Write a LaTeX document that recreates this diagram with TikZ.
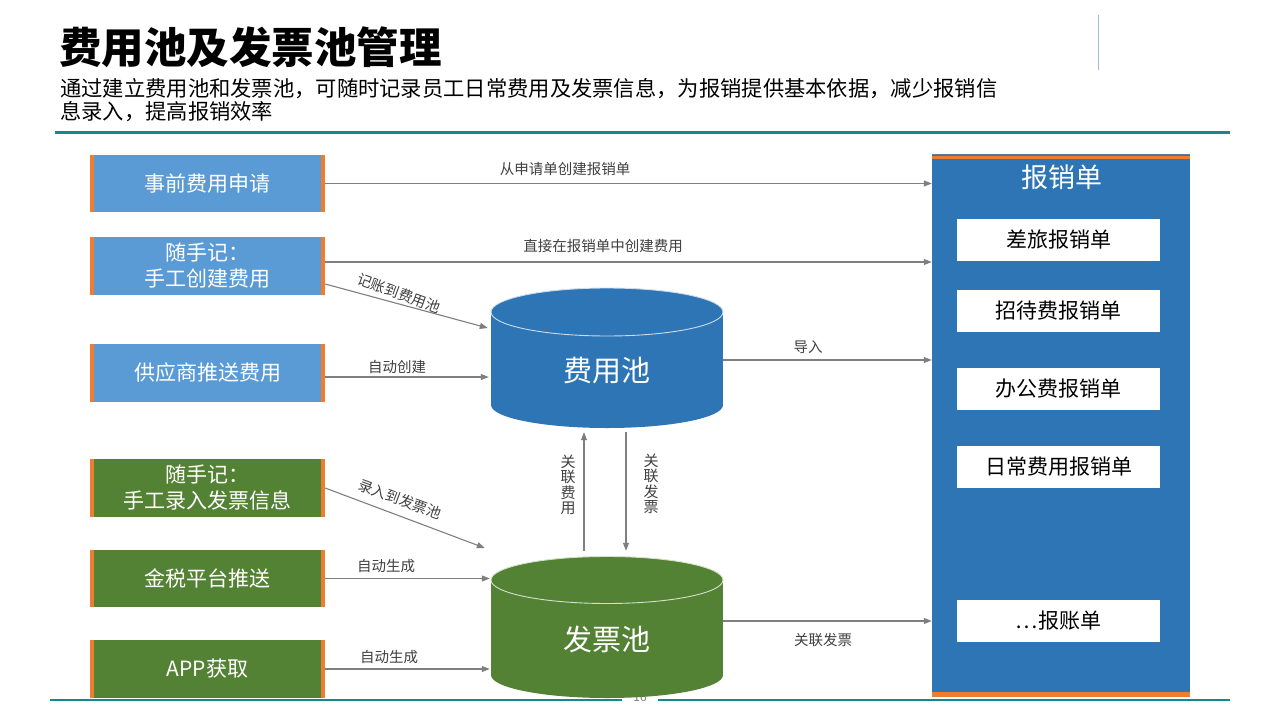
\documentclass[tikz,border=0pt]{standalone}
\usepackage{fontspec}
\setmainfont{Noto Sans CJK SC}
\usetikzlibrary{arrows.meta}
\definecolor{lblue}{HTML}{5B9BD5}
\definecolor{dblue}{HTML}{2E75B6}
\definecolor{grn}{HTML}{548235}
\definecolor{org}{HTML}{ED7D31}
\definecolor{tealline}{HTML}{16878C}
\definecolor{arrgray}{HTML}{7F7F7F}
\definecolor{lblgray}{HTML}{404040}
\definecolor{vline}{HTML}{9DB9D6}
\begin{document}
\begin{tikzpicture}[x=1pt,y=-1pt,
  src/.style={minimum width=235pt, minimum height=58pt, inner sep=0pt, text=white, align=center, font=\fontsize{21}{26}\selectfont},
  bsrc/.style={src, fill=lblue},
  gsrc/.style={src, fill=grn},
  formbox/.style={fill=white, minimum width=203pt, minimum height=42pt, inner sep=0pt, font=\fontsize{21}{25}\selectfont},
  arr/.style={draw=arrgray, line width=1.1pt, -{Triangle[length=8pt,width=6pt]}},
  lbl/.style={text=lblgray, font=\fontsize{14.5}{15}\selectfont, inner sep=0pt},
  vlbl/.style={lbl, align=center, font=\fontsize{15}{15.5}\selectfont},
  poolbox/.style={minimum width=232pt, minimum height=140pt, inner sep=0pt},
  poollbl/.style={text=white, font=\fontsize{29}{30}\selectfont, inner sep=0pt},
]
\useasboundingbox (0,0) rectangle (1280,720);
\fill[white] (0,0) rectangle (1280,720);

% header
\node[anchor=west, inner sep=0pt, font=\fontsize{42.5}{44}\selectfont\bfseries] (title) at (59,47) {费用池及发票池管理};
\draw[vline, line width=0.8pt] (1098,15) -- (1098,70);
\node[anchor=north west, align=left, inner sep=0pt, font=\fontsize{21.3}{23.5}\selectfont] (sub) at (60,78)
  {通过建立费用池和发票池，可随时记录员工日常费用及发票信息，为报销提供基本依据，减少报销信\\息录入，提高报销效率};
\draw[tealline, line width=3pt] (55,132) -- (1230,132);

% footer
\draw[tealline, line width=1.3pt] (50,700) -- (622,700);
\draw[tealline, line width=1.3pt] (658,700) -- (1230,700);
\node[text=arrgray, font=\fontsize{12}{12}\selectfont, inner sep=0pt] (pg) at (640,697) {16};

% source boxes
\node[bsrc, minimum height=57pt] (b1) at (207.5,183.5) {事前费用申请};
\node[bsrc] (b2) at (207.5,266) {随手记：\\手工创建费用};
\node[bsrc] (b3) at (207.5,373) {供应商推送费用};
\node[gsrc] (b4) at (207.5,488) {随手记：\\手工录入发票信息};
\node[gsrc, minimum height=57pt] (b5) at (207.5,578.5) {金税平台推送};
\node[gsrc] (b6) at (207.5,669) {APP获取};
\foreach \n in {b1,b2,b3,b4,b5,b6}{
  \fill[org] (\n.north west) rectangle ([xshift=4pt]\n.south west);
  \fill[org] ([xshift=-4pt]\n.north east) rectangle (\n.south east);
}

% cylinders
\fill[dblue] (491,312) rectangle (723,405);
\fill[dblue] (607,405) ellipse [x radius=116, y radius=23];
\fill[dblue] (607,312) ellipse [x radius=116, y radius=24];
\draw[white!75!dblue, line width=0.9pt] (607,312) ellipse [x radius=116, y radius=24];
\node[poolbox] (fp) at (607,358) {};
\node[poollbl] (fpl) at (607,371) {费用池};

\fill[grn] (491,580) rectangle (723,675);
\fill[grn] (607,675) ellipse [x radius=116, y radius=23];
\fill[grn] (607,580) ellipse [x radius=116, y radius=23.5];
\draw[white!75!grn, line width=0.9pt] (607,580) ellipse [x radius=116, y radius=23.5];
\node[poolbox, minimum height=141pt] (fb) at (607,627.5) {};
\node[poollbl] (fbl) at (607,639) {发票池};

% reimbursement form panel
\node[fill=dblue, minimum width=258pt, minimum height=542pt, inner sep=0pt] (rb) at (1061,426) {};
\fill[org] ([yshift=-1pt]rb.north west) rectangle ([yshift=-4.5pt]rb.north east);
\draw[arrgray!60!dblue, line width=0.8pt] (rb.north west) -- (rb.north east);
\fill[org] ([yshift=5pt]rb.south west) rectangle (rb.south east);
\node[text=white, inner sep=0pt, font=\fontsize{27}{28}\selectfont] (rbt) at (1062,177) {报销单};
\node[formbox] (f1) at (1058.5,240) {差旅报销单};
\node[formbox] (f2) at (1058.5,311) {招待费报销单};
\node[formbox] (f3) at (1058.5,389) {办公费报销单};
\node[formbox] (f4) at (1058.5,467) {日常费用报销单};
\node[formbox] (f5) at (1058.5,621) {…报账单};

% connectors
\draw[arr] (b1.east) -- (b1.east -| rb.west);
\draw[arr] ([yshift=4pt]b2.east) -- ([yshift=4pt]b2.east -| rb.west);
\draw[arr] ([yshift=-18pt]b2.east) -- ([xshift=-3pt,yshift=30pt]fp.west);
\draw[arr] ([yshift=-4pt]b3.east) -- ([xshift=-2pt,yshift=-4pt]b3.east -| fp.west);
\draw[arr] ([yshift=-2pt]fp.east) -- ([yshift=-2pt]fp.east -| rb.west);
\draw[arr] ([xshift=-23pt,yshift=6pt]fb.north) -- ([xshift=-23pt,yshift=-4pt]fp.south);
\draw[arr] ([xshift=19pt,yshift=-4pt]fp.south) -- ([xshift=19pt,yshift=6pt]fb.north);
\draw[arr] (b4.east) -- ([xshift=-6pt,yshift=79.5pt]fb.west);
\draw[arr] (b5.east) -- ([xshift=-1pt]b5.east -| fb.west);
\draw[arr] (b6.east) -- ([xshift=-1pt]b6.east -| fb.west);
\draw[arr] ([yshift=6.5pt]fb.east) -- ([yshift=6.5pt]fb.east -| rb.west);

% connector labels
\node[lbl] (l1) at (565,169) {从申请单创建报销单};
\node[lbl] (l2) at (603,246) {直接在报销单中创建费用};
\node[lbl, rotate=-20] (l3) at (399,293) {记账到费用池};
\node[lbl] (l4) at (397,367) {自动创建};
\node[lbl] (l5) at (808,347) {导入};
\node[vlbl] (l6) at (568,485) {关\\联\\费\\用};
\node[vlbl] (l7) at (651,484) {关\\联\\发\\票};
\node[lbl, rotate=-20] (l8) at (400,499) {录入到发票池};
\node[lbl] (l9) at (386,566) {自动生成};
\node[lbl] (l10) at (389,657) {自动生成};
\node[lbl] (l11) at (823,640) {关联发票};
\end{tikzpicture}
\end{document}
